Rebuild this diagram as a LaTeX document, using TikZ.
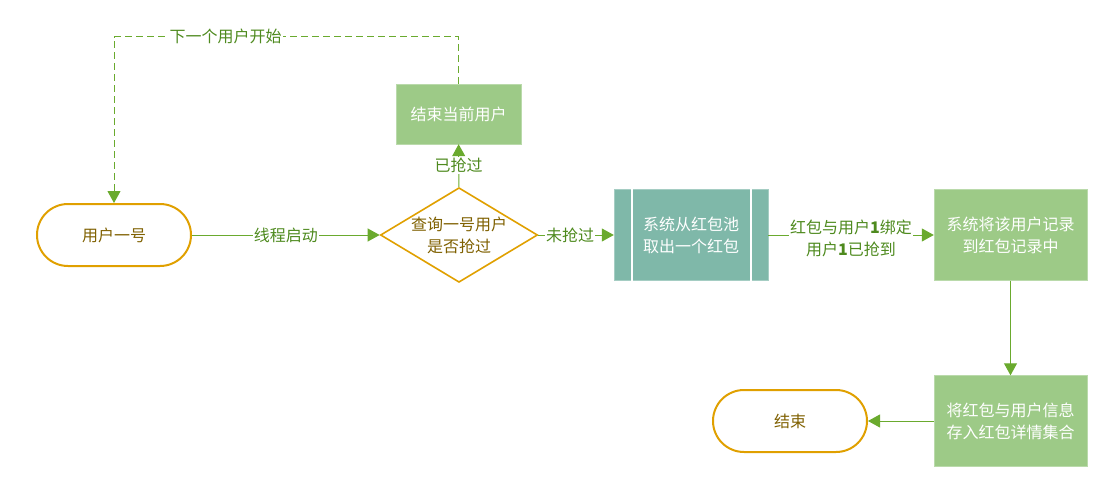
\documentclass[tikz,border=0pt]{standalone}
\usepackage{fontspec}
\setmainfont{Noto Sans CJK SC}
\usepackage{xcolor}
\usepackage{tikz}
\usetikzlibrary{positioning,arrows.meta,calc,shapes.geometric}

\definecolor{lineGreen}{HTML}{6AAA2E}
\definecolor{labelGreen}{HTML}{4E8A1E}
\definecolor{termOrange}{HTML}{E0A000}
\definecolor{termText}{HTML}{7F6000}
\definecolor{boxGreen}{HTML}{9DCA87}
\definecolor{boxTeal}{HTML}{7FB8A9}

\begin{document}
\begin{tikzpicture}[
  x=1pt, y=-1pt,
  every node/.style={font=\fontsize{16}{22}\selectfont, align=center},
  terminal/.style={draw=termOrange, line width=2pt, rounded corners=31pt,
    minimum width=154pt, minimum height=62pt, text=termText},
  decision/.style={diamond, draw=termOrange, line width=1.6pt, aspect=1.66,
    minimum width=156pt, minimum height=94pt, inner sep=0pt, text=termText},
  process/.style={fill=boxGreen, draw=boxGreen!70!white, text=white,
    minimum width=153pt, minimum height=91pt},
  predef/.style={fill=boxTeal, draw=boxTeal!70!white, text=white,
    minimum width=154pt, minimum height=91pt},
  flow/.style={draw=lineGreen, line width=1pt, -{Triangle[length=12pt,width=13pt]}},
  elabel/.style={fill=white, text=labelGreen, inner sep=1pt}]
  \useasboundingbox (0,0) rectangle (1108,503);

  \node[terminal] (start) at (114,235) {用户一号};
  \node[decision] (check) at (459,235) {查询一号用户\\是否抢过};
  \node[process, minimum width=125pt, minimum height=60pt] (endcur) at (458.5,114) {结束当前用户};
  \node[predef] (take) at (691,235) {系统从红包池\\取出一个红包};
  \draw[white, line width=2pt] ([xshift=18pt]take.north west) -- ([xshift=18pt]take.south west);
  \draw[white, line width=2pt] ([xshift=-17pt]take.north east) -- ([xshift=-17pt]take.south east);
  \node[process] (record) at (1010.5,235) {系统将该用户记录\\到红包记录中};
  \node[process] (save) at (1010.5,421) {将红包与用户信息\\存入红包详情集合};
  \node[terminal] (finish) at (790,421) {结束};

  \draw[flow] (start) -- node[elabel] {线程启动} (check);
  \draw[flow] (check) -- node[elabel, pos=0.42] {未抢过} (take);
  \draw[flow] (check) -- node[elabel] {已抢过} (endcur);
  \draw[flow] (take) -- node[elabel, yshift=-3pt] {红包与用户\textbf{1}绑定\\用户\textbf{1}已抢到} (record);
  \draw[flow] (record) -- (save);
  \draw[flow] (save) -- (finish);
  \draw[flow, dashed, dash pattern=on 7pt off 4pt] (endcur.north) -- ++(0,-47)
    -| node[elabel, pos=0.338] {下一个用户开始} (start.north);
\end{tikzpicture}
\end{document}
